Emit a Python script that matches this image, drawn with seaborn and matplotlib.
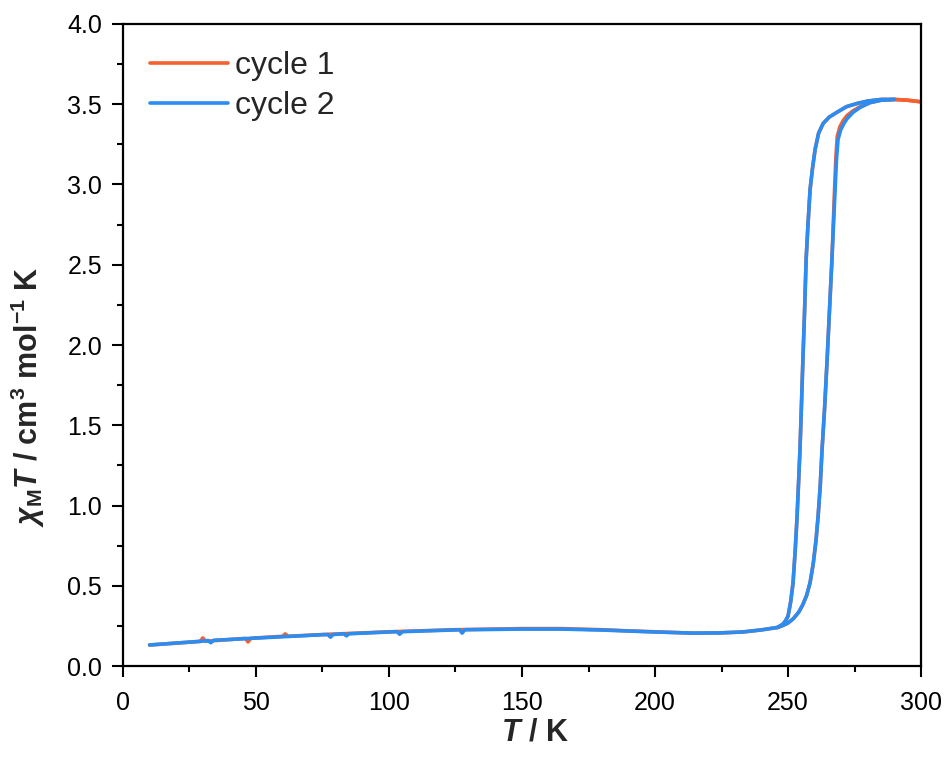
import matplotlib
matplotlib.use("Agg")
import matplotlib.pyplot as plt
import seaborn as sns
import pandas as pd
from matplotlib.ticker import MultipleLocator, FormatStrFormatter

# ---- data ----
# cycle 2 : cooling branch (high T -> low T)
c2_cool_T = [290, 285, 280, 276, 272, 268.4, 265.5, 263.2, 261.5, 260.2, 259.2, 258.3,
             257.5, 256.8, 256.2, 255.6, 255.0, 254.5, 253.9, 253.4, 252.7, 251.9, 251.0,
             250.0, 249.0, 248.0, 246, 240, 233, 224, 214, 200, 190, 180, 165, 150,
             128.5, 127.5, 126.5, 125, 105, 104, 103, 100, 85, 84, 83, 79, 78, 77, 75,
             50, 34, 33, 32, 30, 10]
c2_cool_X = [3.53, 3.53, 3.52, 3.505, 3.485, 3.45, 3.42, 3.38, 3.32, 3.22, 3.10, 2.97,
             2.75, 2.53, 2.20, 1.91, 1.60, 1.35, 1.12, 0.93, 0.72, 0.52, 0.40,
             0.31, 0.28, 0.26, 0.24, 0.225, 0.212, 0.206, 0.205, 0.212, 0.218, 0.224, 0.23, 0.23,
             0.226, 0.205, 0.226, 0.225, 0.214, 0.198, 0.214, 0.212, 0.201, 0.188, 0.201, 0.196, 0.18, 0.196, 0.195,
             0.174, 0.160, 0.145, 0.159, 0.155, 0.131]
# cycle 2 : heating branch (low T -> high T)
c2_heat_T = [246, 248, 250, 252, 254, 255.5, 257, 258.3, 259.5, 260.5, 261.3, 262.1,
             262.8, 263.8, 264.7, 265.6, 266.5, 267.1, 267.7, 268.2, 268.8, 269.8, 271,
             272.2, 274.5, 277.1, 280.8, 285, 290]
c2_heat_X = [0.24, 0.252, 0.268, 0.295, 0.335, 0.38, 0.44, 0.52, 0.64, 0.78, 0.93, 1.12,
             1.35, 1.62, 1.91, 2.22, 2.53, 2.75, 2.97, 3.15, 3.28, 3.34, 3.38,
             3.41, 3.45, 3.48, 3.51, 3.525, 3.53]

# cycle 1 : cooling branch
c1_cool_T = [300, 295, 290, 285, 280, 276, 272, 268.4, 265.5, 263.2, 261.5, 260.2, 259.2,
             258.3, 257.5, 256.8, 256.2, 255.6, 255.0, 254.5, 253.9, 253.4, 252.7, 251.9,
             251.0, 250.0, 249.0, 248.0, 246, 240, 233, 224, 214, 200, 190, 180, 165,
             150, 125, 100, 75, 62, 61, 60, 50, 48, 47, 46, 31, 30, 29, 10]
c1_cool_X = [3.515, 3.525, 3.53, 3.53, 3.52, 3.505, 3.485, 3.45, 3.42, 3.38, 3.32, 3.22, 3.10,
             2.97, 2.75, 2.53, 2.20, 1.91, 1.60, 1.35, 1.12, 0.93, 0.72, 0.52,
             0.40, 0.31, 0.28, 0.26, 0.24, 0.225, 0.212, 0.206, 0.205, 0.213, 0.219, 0.226, 0.233,
             0.233, 0.226, 0.213, 0.196, 0.185, 0.20, 0.185, 0.175, 0.172, 0.150, 0.172, 0.154, 0.175, 0.153, 0.131]
# cycle 1 : heating branch
c1_heat_T = [246, 248, 250, 252, 254, 255.5, 257, 258.3, 259.5, 260.5, 261.3, 262.1,
             262.8, 263.8, 264.7, 265.6, 266.5, 267.0, 267.5, 268.0, 268.5, 269.5, 270.8,
             272.2, 274.5, 277.1, 280.8, 285, 290, 295, 300]
c1_heat_X = [0.24, 0.252, 0.268, 0.295, 0.335, 0.38, 0.44, 0.52, 0.64, 0.78, 0.93, 1.12,
             1.35, 1.62, 1.91, 2.22, 2.53, 2.75, 2.97, 3.17, 3.30, 3.36, 3.40,
             3.43, 3.46, 3.485, 3.51, 3.525, 3.53, 3.525, 3.515]

labels = ["cycle 1", "cycle 2"]
colors = ["#F4602F", "#2B8CF2"]

# ---- style ----
sns.set_theme(style="ticks")
plt.rcParams["font.family"] = ["Liberation Sans", "DejaVu Sans"]
plt.rcParams["mathtext.fontset"] = "custom"
plt.rcParams["mathtext.rm"] = "Liberation Sans:bold"
plt.rcParams["mathtext.bf"] = "Liberation Sans:bold"
plt.rcParams["mathtext.it"] = "Liberation Sans:bold:italic"

fig = plt.figure(figsize=(9.46, 7.57), dpi=100)
ax = fig.add_axes([0.130, 0.1202, 0.8436, 0.8481])

LW = 2.6

def draw(T1, X1, T2, X2, color, label):
    d1 = pd.DataFrame({"T": T1, "X": X1})
    d2 = pd.DataFrame({"T": T2, "X": X2})
    sns.lineplot(data=d1, x="T", y="X", sort=False, color=color, lw=LW, ax=ax, label=label)
    sns.lineplot(data=d2, x="T", y="X", sort=False, color=color, lw=LW, ax=ax)

draw(c1_cool_T, c1_cool_X, c1_heat_T, c1_heat_X, colors[0], labels[0])
draw(c2_cool_T, c2_cool_X, c2_heat_T, c2_heat_X, colors[1], labels[1])

ax.set_xlim(0, 300)
ax.set_ylim(0, 4.0)
ax.xaxis.set_major_locator(MultipleLocator(50))
ax.xaxis.set_minor_locator(MultipleLocator(25))
ax.yaxis.set_major_locator(MultipleLocator(0.5))
ax.yaxis.set_minor_locator(MultipleLocator(0.25))
ax.yaxis.set_major_formatter(FormatStrFormatter("%.1f"))

for s in ax.spines.values():
    s.set_linewidth(1.6)
    s.set_color("black")
ax.tick_params(which="major", direction="out", length=8, width=1.5, labelsize=18, colors="black")
ax.tick_params(axis="x", which="major", pad=10)
ax.tick_params(axis="y", which="major", pad=7)
ax.tick_params(which="minor", direction="out", length=4.5, width=1.5, colors="black")
ax.tick_params(top=False, right=False, which="both")

ax.set_xlabel(r"$T$ / K", fontsize=22, fontweight="bold")
ax.set_ylabel(r"$\chi_{\mathrm{M}}T$ / cm$^{3}$ mol$^{-1}$ K", fontsize=22, fontweight="bold")
ax.xaxis.set_label_coords(0.516, -0.080)
ax.yaxis.set_label_coords(-0.095, 0.42)

leg = ax.legend(loc="upper left", frameon=False, fontsize=23, handlelength=2.45,
                handletextpad=0.2, borderaxespad=0.45, labelspacing=0.3)
for h in leg.get_lines():
    h.set_linewidth(LW)

fig.savefig("out.png", dpi=100)
